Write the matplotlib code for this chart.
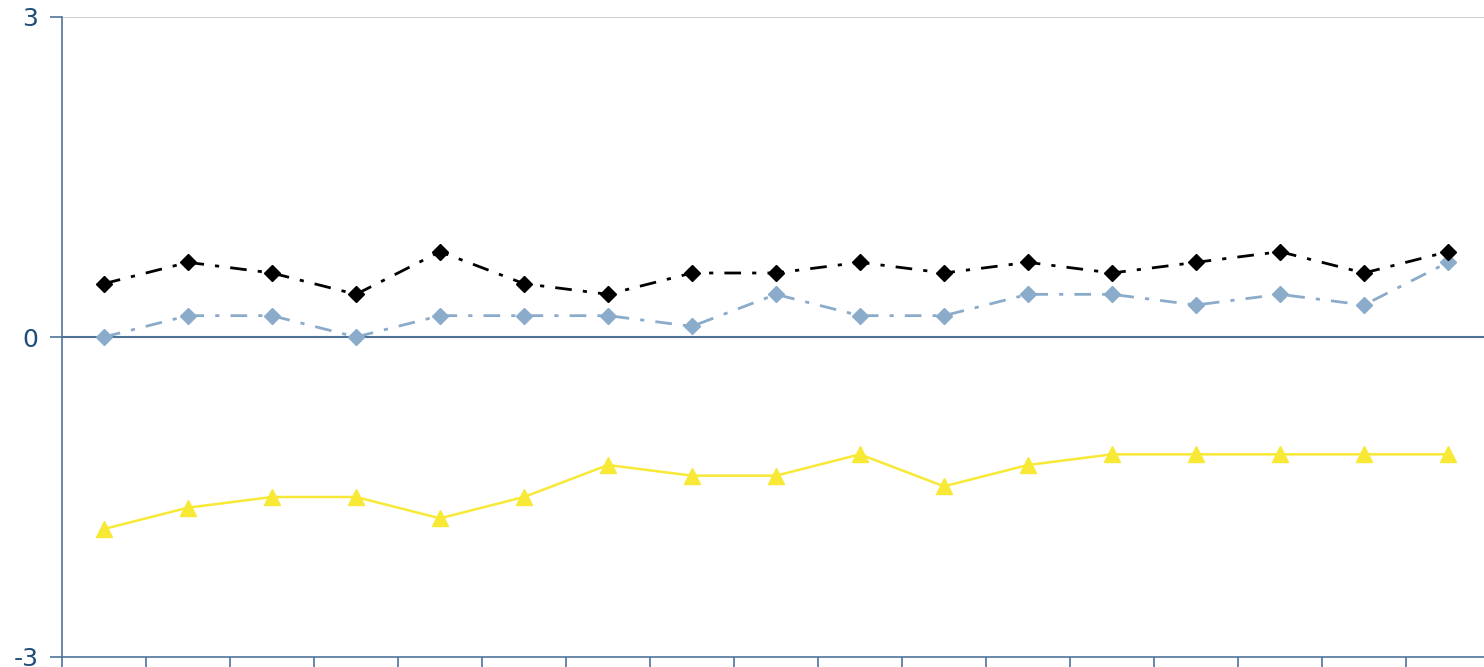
import matplotlib
matplotlib.use("Agg")
import matplotlib.pyplot as plt
import numpy as np

categories = list(range(1, 18))
black_vals = [0.5, 0.7, 0.6, 0.4, 0.8, 0.5, 0.4, 0.6, 0.6, 0.7, 0.6, 0.7, 0.6, 0.7, 0.8, 0.6, 0.8]
blue_vals = [0.0, 0.2, 0.2, 0.0, 0.2, 0.2, 0.2, 0.1, 0.4, 0.2, 0.2, 0.4, 0.4, 0.3, 0.4, 0.3, 0.7]
yellow_vals = [-1.8, -1.6, -1.5, -1.5, -1.7, -1.5, -1.2, -1.3, -1.3, -1.1, -1.4, -1.2, -1.1, -1.1, -1.1, -1.1, -1.1]
y_ticks = [-3, 0, 3]

axis_color = "#4f7398"
label_color = "#1f4e79"

W, H = 1484, 667
fig = plt.figure(figsize=(W / 100, H / 100), dpi=100)
left, right, top, bottom = 62, 1490, 17, 657
ax = fig.add_axes([left / W, 1 - bottom / H, (right - left) / W, (bottom - top) / H])

x = np.arange(len(categories))
ax.plot(x, yellow_vals, color="#f7e935", lw=1.8, marker="^", ms=11, zorder=3)
ax.plot(x, blue_vals, color="#8aabca", lw=2.0, marker="D", ms=8.5,
        dashes=(6, 4, 1.5, 4), zorder=4)
ax.plot(x, black_vals, color="black", lw=2.0, marker="D", ms=8.5,
        dashes=(6, 4, 1.5, 4), zorder=5)

ax.set_xlim(-0.5, len(categories) - 0.5)
ax.set_ylim(-3, 3)
ax.axhline(3, color="#c8c8c8", lw=1.2, zorder=1)
ax.axhline(0, color=axis_color, lw=1.5, zorder=2)

for s in ["top", "right"]:
    ax.spines[s].set_visible(False)
for s in ["left", "bottom"]:
    ax.spines[s].set_color(axis_color)
    ax.spines[s].set_linewidth(1.2)

ax.set_yticks(y_ticks)
ax.set_yticklabels([str(v) for v in y_ticks])
ax.tick_params(axis="y", length=9, width=1.2, color=axis_color, labelcolor=label_color,
               labelsize=18, pad=8)
ax.set_xticks(np.arange(len(categories) + 1) - 0.5)
ax.set_xticklabels([])
ax.tick_params(axis="x", length=10, width=1.2, color=axis_color)

fig.savefig("out.png", dpi=100)
